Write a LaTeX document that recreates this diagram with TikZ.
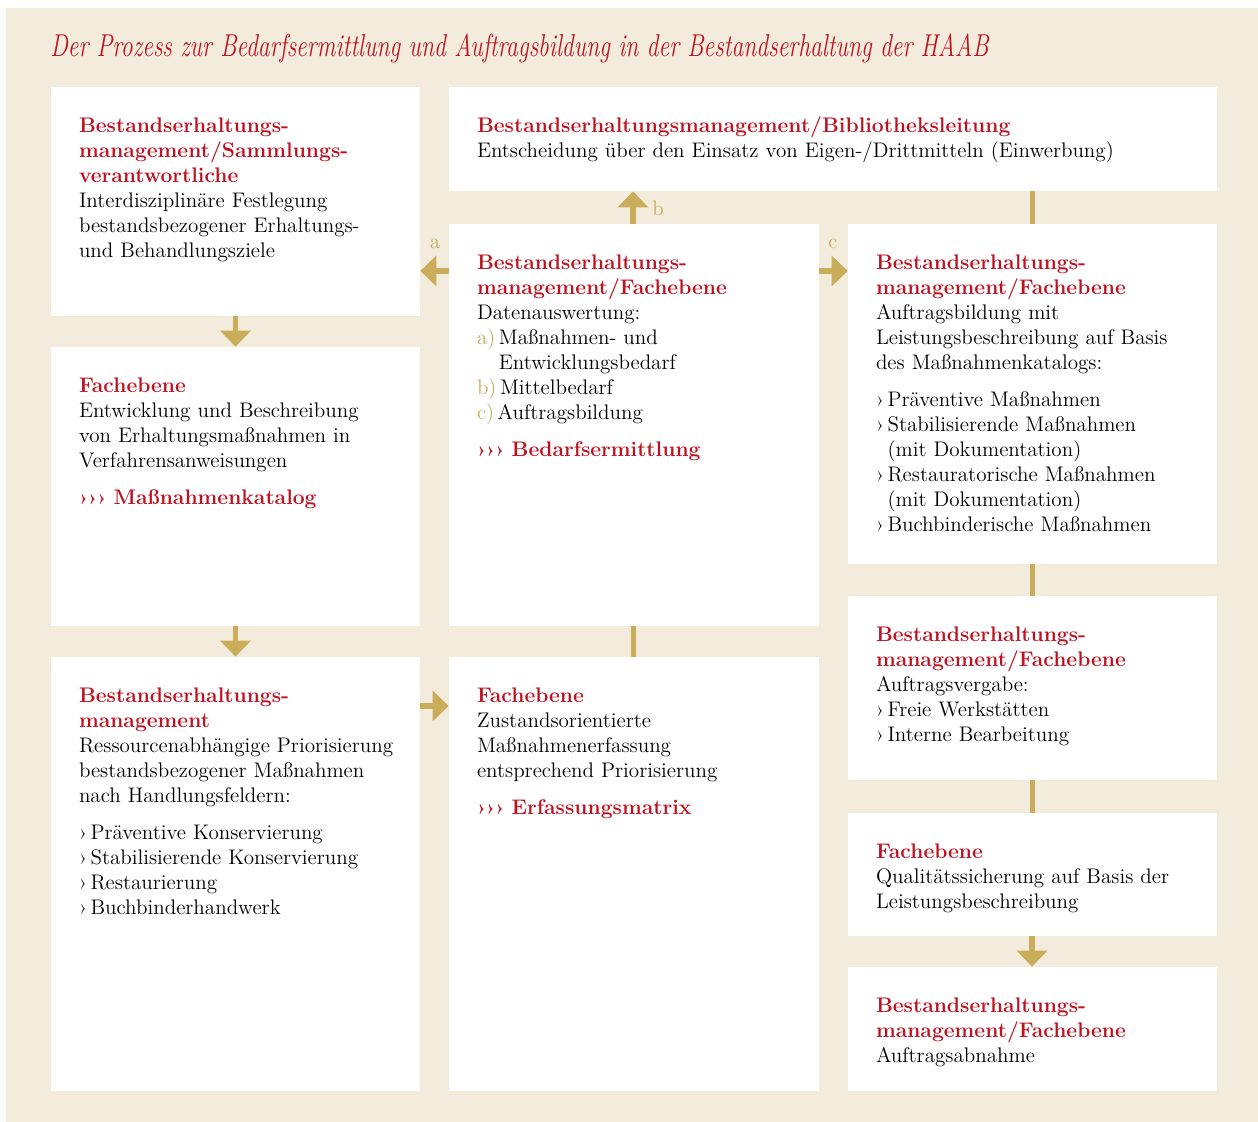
\documentclass[tikz,border=0pt]{standalone}
\usepackage{fontspec}
\usepackage{xcolor}
\usepackage{graphicx}
\usetikzlibrary{fit}
\usetikzlibrary{arrows.meta}
\definecolor{haabbeige}{HTML}{F3EBDB}
\definecolor{haabgold}{HTML}{C9AD5B}
\definecolor{haabred}{HTML}{BE1220}
\newcommand{\boxhead}[1]{{\color{haabred}\bfseries #1}}
\newcommand{\itm}{›\,}
\newcommand{\hang}{\phantom{›\,}}
\newcommand{\lett}[1]{{\color{haabgold}#1)}\,}
\tikzset{
	box/.style={fill=white,draw=none,inner sep=0pt},
	txt/.style={anchor=base west,align=left,inner sep=0pt,text width=6.5cm,
		font=\fontsize{12}{14.23}\selectfont},
	flow/.style={draw=haabgold,line width=0.11cm,-{Triangle[width=0.6cm,length=0.32cm]}},
	link/.style={draw=haabgold,line width=0.1cm},
	lbl/.style={text=haabgold,font=\fontsize{12}{14}\selectfont,inner sep=0pt}
}

\begin{document}
\begin{tikzpicture}[x=0.02cm,y=-0.02cm]
	\useasboundingbox (0,0) rectangle (1258,1122);
	\fill[haabbeige] (6,8) rectangle (1258,1122);
	\node [anchor=base west,inner sep=0pt,text=haabred,font=\fontsize{18}{22}\selectfont\itshape] (title) at (50,57)
		{\scalebox{0.75}[1]{Der Prozess zur Bedarfsermittlung und Auftragsbildung in der Bestandserhaltung der HAAB}};
	% boxes
	\node [box,fit={(51,87) (420,316)}] (1) {};
	\node [box,fit={(449,87) (1217,191)}] (2) {};
	\node [box,fit={(449,224) (819,626)}] (3) {};
	\node [box,fit={(848,224) (1217,564)}] (4) {};
	\node [box,fit={(51,347) (420,626)}] (5) {};
	\node [box,fit={(51,657) (420,1091)}] (6) {};
	\node [box,fit={(449,657) (819,1091)}] (7) {};
	\node [box,fit={(848,596) (1217,780)}] (8) {};
	\node [box,fit={(848,813) (1217,936)}] (9) {};
	\node [box,fit={(848,967) (1217,1091)}] (10) {};
	% texts
	\node [txt] (1t) at ([shift={(28,46)}]1.north west) {\boxhead{Bestandserhaltungs-\\management/Sammlungs-\\verantwortliche}\\
		Interdisziplinäre Festlegung\\bestandsbezogener Erhaltungs-\\und Behandlungsziele};
	\node [txt,text width=14.5cm] (2t) at ([shift={(28,46)}]2.north west) {\boxhead{Bestandserhaltungsmanagement/Bibliotheksleitung}\\
		Entscheidung über den Einsatz von Eigen-/Drittmitteln (Einwerbung)};
	\node [txt] (3t) at ([shift={(28,46)}]3.north west) {\boxhead{Bestandserhaltungs-\\management/Fachebene}\\
		Datenauswertung:\\
		\lett{a}Maßnahmen- und\\\phantom{\lett{a}}Entwicklungsbedarf\\
		\lett{b}Mittelbedarf\\
		\lett{c}Auftragsbildung\\[7pt]
		\boxhead{››› Bedarfsermittlung}};
	\node [txt] (4t) at ([shift={(28,46)}]4.north west) {\boxhead{Bestandserhaltungs-\\management/Fachebene}\\
		Auftragsbildung mit\\Leistungsbeschreibung auf Basis\\des Maßnahmenkatalogs:\\[7pt]
		\itm Präventive Maßnahmen\\
		\itm Stabilisierende Maßnahmen\\\hang(mit Dokumentation)\\
		\itm Restauratorische Maßnahmen\\\hang(mit Dokumentation)\\
		\itm Buchbinderische Maßnahmen};
	\node [txt] (5t) at ([shift={(28,46)}]5.north west) {\boxhead{Fachebene}\\
		Entwicklung und Beschreibung\\von Erhaltungsmaßnahmen in\\Verfahrensanweisungen\\[7pt]
		\boxhead{››› Maßnahmenkatalog}};
	\node [txt] (6t) at ([shift={(28,46)}]6.north west) {\boxhead{Bestandserhaltungs-\\management}\\
		Ressourcenabhängige Priorisierung\\bestandsbezogener Maßnahmen\\nach Handlungsfeldern:\\[7pt]
		\itm Präventive Konservierung\\
		\itm Stabilisierende Konservierung\\
		\itm Restaurierung\\
		\itm Buchbinderhandwerk};
	\node [txt] (7t) at ([shift={(28,46)}]7.north west) {\boxhead{Fachebene}\\
		Zustandsorientierte\\Maßnahmenerfassung\\entsprechend Priorisierung\\[7pt]
		\boxhead{››› Erfassungsmatrix}};
	\node [txt] (8t) at ([shift={(28,46)}]8.north west) {\boxhead{Bestandserhaltungs-\\management/Fachebene}\\
		Auftragsvergabe:\\
		\itm Freie Werkstätten\\
		\itm Interne Bearbeitung};
	\node [txt] (9t) at ([shift={(28,46)}]9.north west) {\boxhead{Fachebene}\\
		Qualitätssicherung auf Basis der\\Leistungsbeschreibung};
	\node [txt] (10t) at ([shift={(28,46)}]10.north west) {\boxhead{Bestandserhaltungs-\\management/Fachebene}\\
		Auftragsabnahme};
	% arrows
	\draw [flow] (1) -- (5);
	\draw [flow] (5) -- (6);
	\draw [flow] (3.west |- 0,271) -- (1.east |- 0,271);
	\draw [flow] (3.north -| 633,0) -- (2.south -| 633,0);
	\draw [flow] (3.east |- 0,271) -- (4.west |- 0,271);
	\draw [flow] (6.east |- 0,706) -- (7.west |- 0,706);
	\draw [link] (3.south -| 633,0) -- (7.north -| 633,0);
	\draw [link] (2.south -| 1032,0) -- (4.north -| 1032,0);
	\draw [link] (4.south -| 1032,0) -- (8.north -| 1032,0);
	\draw [link] (8.south -| 1032,0) -- (9.north -| 1032,0);
	\draw [flow] (9.south -| 1032,0) -- (10.north -| 1032,0);
	\node [lbl] (la) at (435,244) {a};
	\node [lbl] (lb) at (658,208) {b};
	\node [lbl] (lc) at (833,244) {c};
\end{tikzpicture}
\end{document}
